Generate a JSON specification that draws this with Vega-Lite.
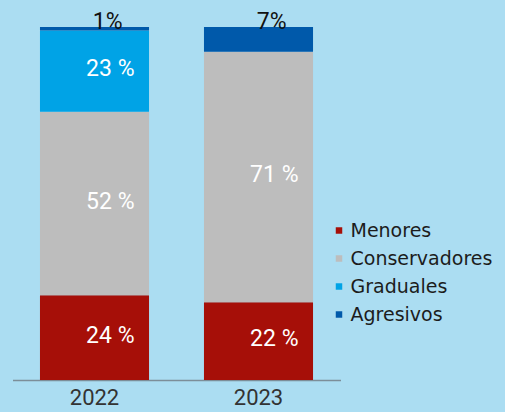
{
  "$schema": "https://vega.github.io/schema/vega-lite/v6.json",
  "width": 328,
  "height": 353,
  "autosize": {"type": "none"},
  "padding": {"left": 12.5, "top": 27, "right": 164.5, "bottom": 32},
  "background": "#abddf2",
  "config": {"view": {"stroke": null}},
  "data": {"values": [
    {"year": "2022", "cat": "Menores", "ord": 1, "value": 24, "label": "24 %"},
    {"year": "2022", "cat": "Conservadores", "ord": 2, "value": 52, "label": "52 %"},
    {"year": "2022", "cat": "Graduales", "ord": 3, "value": 23, "label": "23 %"},
    {"year": "2022", "cat": "Agresivos", "ord": 4, "value": 1, "label": "1%"},
    {"year": "2023", "cat": "Menores", "ord": 1, "value": 22, "label": "22 %"},
    {"year": "2023", "cat": "Conservadores", "ord": 2, "value": 71, "label": "71 %"},
    {"year": "2023", "cat": "Graduales", "ord": 3, "value": 0, "label": ""},
    {"year": "2023", "cat": "Agresivos", "ord": 4, "value": 7, "label": "7%"}
  ]},
  "encoding": {
    "x": {
      "field": "year", "type": "nominal", "title": null,
      "scale": {"paddingInner": 0.335, "paddingOuter": 0.1675},
      "axis": {
        "labelAngle": 0, "ticks": false, "tickSize": 0, "labelPadding": 7,
        "labelFont": "Roboto", "labelFontSize": 22, "labelColor": "#333333",
        "domainColor": "#7c8e99", "domainWidth": 1.5
      }
    }
  },
  "layer": [
    {
      "mark": {"type": "bar"},
      "encoding": {
        "y": {"field": "value", "type": "quantitative", "stack": "zero", "scale": {"domain": [0, 100]}, "axis": null},
        "order": {"field": "ord", "type": "quantitative"},
        "color": {
          "field": "cat", "type": "nominal", "title": null,
          "scale": {
            "domain": ["Menores", "Conservadores", "Graduales", "Agresivos"],
            "range": ["#a60f08", "#bdbdbd", "#00a3e6", "#0059aa"]
          },
          "legend": {
            "orient": "none", "legendX": 317, "legendY": 194, "padding": 0,
            "symbolType": "square", "symbolSize": 42, "symbolStrokeWidth": 0,
            "labelFont": "DejaVu Sans", "labelFontSize": 19, "labelColor": "#1c1c1c",
            "labelOffset": 2, "rowPadding": 8
          }
        }
      }
    },
    {
      "transform": [
        {"stack": "value", "groupby": ["year"], "sort": [{"field": "ord", "order": "ascending"}], "as": ["y0", "y1"]},
        {"filter": "datum.cat != 'Agresivos' && datum.value > 0"},
        {"fold": ["y0", "y1"], "as": ["k", "pos"]},
        {"aggregate": [{"op": "mean", "field": "pos", "as": "mid"}], "groupby": ["year", "cat", "label"]}
      ],
      "mark": {"type": "text", "align": "right", "baseline": "middle", "dx": 40, "dy": -2, "font": "Roboto", "fontSize": 23, "color": "#ffffff"},
      "encoding": {
        "y": {"field": "mid", "type": "quantitative", "scale": {"domain": [0, 100]}, "axis": null},
        "text": {"field": "label"}
      }
    },
    {
      "transform": [
        {"stack": "value", "groupby": ["year"], "sort": [{"field": "ord", "order": "ascending"}], "as": ["y0", "y1"]},
        {"filter": "datum.cat == 'Agresivos'"}
      ],
      "mark": {"type": "text", "align": "right", "baseline": "alphabetic", "dx": 28, "dy": 2, "font": "Roboto", "fontSize": 23, "color": "#111111"},
      "encoding": {
        "y": {"field": "y1", "type": "quantitative", "scale": {"domain": [0, 100]}, "axis": null},
        "text": {"field": "label"}
      }
    }
  ]
}
